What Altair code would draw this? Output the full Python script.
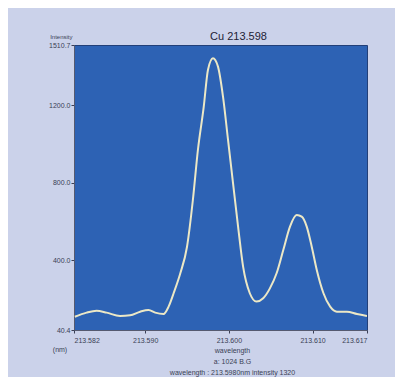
import altair as alt
import pandas as pd

wavelength = [213.5816, 213.5830, 213.5842, 213.5854, 213.5870, 213.5882, 213.5894,
              213.5904, 213.5912, 213.5922, 213.5928, 213.5934, 213.5942, 213.5950,
              213.5957, 213.5963, 213.5970, 213.5975, 213.5981, 213.5987, 213.5993,
              213.5999, 213.6005, 213.6011, 213.6017, 213.6025, 213.6033, 213.6041,
              213.6049, 213.6057, 213.6065, 213.6073, 213.6081, 213.6087, 213.6093,
              213.6099, 213.6105, 213.6113, 213.6121, 213.6129, 213.6141, 213.6153,
              213.6165]
intensity = [109, 130, 140, 130, 113, 116, 135,
             144, 130, 123, 161, 230, 333, 470,
             711, 969, 1193, 1382, 1442, 1399, 1244,
             1021, 797, 574, 367, 230, 187, 204,
             255, 333, 453, 574, 634, 625, 574,
             470, 350, 230, 161, 135, 135, 123,
             113]

x_min, x_max = 213.5815, 213.6165
y_min, y_max = 40.4, 1510.7
x_ticks = [213.5815, 213.590, 213.600, 213.610, 213.6165]
y_ticks = [40.4, 400.0, 800.0, 1200.0, 1510.7]

df = pd.DataFrame({"wavelength": wavelength, "intensity": intensity})

text_color = "#3a3f55"
font = "Liberation Sans"

line = alt.Chart(df).mark_line(
    color="#ece8c6", strokeWidth=2, interpolate="monotone", clip=True
).encode(
    x=alt.X("wavelength:Q",
            scale=alt.Scale(domain=[x_min, x_max], nice=False, zero=False),
            axis=alt.Axis(values=x_ticks, format=".3f", labelFontSize=7,
                          labelColor=text_color, tickColor=text_color, tickSize=3,
                          domainColor="#555a70", grid=False, labelPadding=3,
                          labelFlush=True,
                          title=["wavelength", "a: 1024 B.G",
                                 "wavelength : 213.5980nm intensity 1320"],
                          titleFontSize=7, titleFontWeight="normal",
                          titleColor=text_color, titleX=158, titleY=16,
                          titleLineHeight=11)),
    y=alt.Y("intensity:Q",
            scale=alt.Scale(domain=[y_min, y_max], nice=False, zero=False),
            axis=alt.Axis(values=y_ticks, format=".1f", labelFontSize=7,
                          labelColor=text_color, tickColor=text_color, tickSize=3,
                          domainColor="#555a70", grid=False, labelPadding=1,
                          labelFlush=False,
                          title="Intensity", titleAngle=0, titleFontSize=6,
                          titleFontWeight="normal", titleColor=text_color,
                          titleAlign="right", titleX=-2, titleY=-6)),
)

unit_df = pd.DataFrame({"label": ["(nm)"]})
unit = alt.Chart(unit_df).mark_text(
    fontSize=7, color=text_color, font=font, align="center"
).encode(text="label:N", x=alt.value(-14), y=alt.value(305))

chart = alt.layer(line, unit).properties(
    width=293, height=285,
    title=alt.TitleParams("Cu 213.598", fontSize=11, fontWeight="normal",
                          color="#1e2236", font=font, dx=18, offset=-9,
                          frame="group"),
    background="#cbd2ea",
    padding={"left": 66, "top": 37, "right": 28, "bottom": 47},
    autosize=alt.AutoSizeParams(type="none"),
).configure(font=font).configure_view(
    fill="#2d62b4", stroke="#223f78", strokeWidth=1
)

chart.save("out.html", embed_options={"renderer": "svg", "actions": False})
